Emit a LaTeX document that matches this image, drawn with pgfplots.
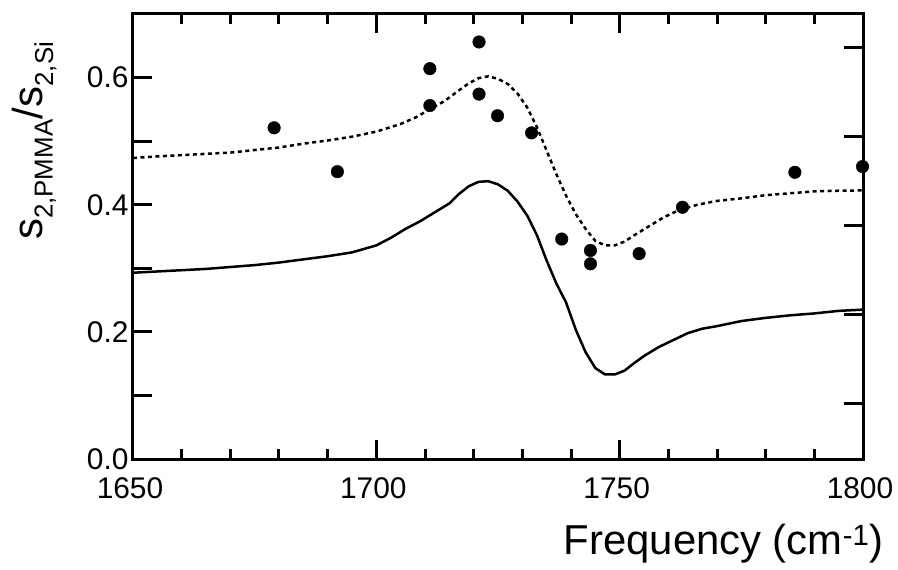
\documentclass[border=0pt]{standalone}
\usepackage{pgfplots}
\pgfplotsset{compat=1.18}
\usepackage{fontspec}
\setmainfont{Liberation Sans}

% Measured near-field ratio (dots), fitted model (dotted) and bare model (solid)
\pgfplotstableread{
x y
1679.0 0.521
1692.0 0.452
1711.0 0.614
1711.0 0.556
1721.1 0.656
1721.1 0.574
1724.9 0.540
1731.9 0.513
1738.1 0.346
1744.0 0.328
1744.0 0.307
1754.0 0.323
1762.9 0.396
1786.0 0.451
1799.9 0.460
}\measured

\pgfplotstableread{
x y
1650 0.4735
1655 0.476
1660 0.478
1665 0.480
1670 0.482
1675 0.486
1680 0.490
1685 0.496
1690 0.501
1695 0.507
1700 0.515
1705 0.527
1708 0.537
1711 0.550
1714 0.563
1717 0.580
1719 0.591
1721 0.599
1723 0.602
1725 0.598
1727 0.590
1729 0.575
1731 0.553
1733 0.522
1735 0.485
1737 0.448
1739 0.414
1741 0.385
1743 0.362
1745 0.343
1747 0.336
1749 0.336
1751 0.342
1753 0.352
1756 0.366
1759 0.380
1762 0.391
1766 0.400
1770 0.406
1775 0.410
1780 0.415
1785 0.418
1790 0.421
1795 0.422
1800 0.4225
}\fitted

\pgfplotstableread{
x y
1650 0.293
1655 0.295
1660 0.297
1665 0.299
1670 0.302
1675 0.305
1680 0.309
1685 0.314
1690 0.319
1695 0.325
1700 0.336
1703 0.348
1706 0.362
1709 0.374
1712 0.388
1715 0.402
1717 0.417
1719 0.429
1721 0.436
1723 0.437
1725 0.432
1727 0.422
1729 0.405
1731 0.383
1733 0.352
1735 0.312
1737 0.276
1739 0.246
1741 0.203
1743 0.168
1745 0.143
1747 0.133
1749 0.133
1751 0.139
1753 0.151
1755 0.162
1758 0.176
1761 0.187
1764 0.198
1767 0.205
1770 0.209
1775 0.217
1780 0.222
1785 0.226
1790 0.229
1795 0.233
1800 0.235
}\model

\begin{document}
\begin{tikzpicture}
\pgfplotsset{
  frame/.style={
    scale only axis,
    width=730bp, height=445bp,
    xmin=1650, xmax=1800, ymin=0, ymax=0.7,
    axis line style={line width=3bp, black},
    every tick/.style={line width=3bp, black},
    tick align=inside,
    major tick length=19bp,
    minor tick length=10bp,
  }
}
\begin{axis}[
  frame,
  clip=false,
  xtick={1650,1700,1750,1800},
  minor xtick={1660,1670,...,1790},
  xtick pos=both,
  ytick={0,0.1,...,0.65},
  yticklabels={0.0,,0.2,,0.4,,0.6},
  ytick pos=left,
  /pgf/number format/assume math mode=true,
  /pgf/number format/1000 sep={},
  ticklabel style={font=\fontsize{30}{36}\selectfont},
  xticklabel style={yshift=-15bp, xshift=-3bp},
  yticklabel style={xshift=-1bp},
]
\addplot[black, line width=2.5bp, dash pattern=on 4bp off 3.5bp]
  table[x=x, y=y] {\fitted};
\addplot[black, line width=2.5bp] table[x=x, y=y] {\model};
\addplot[only marks, mark=*, mark size=6.3bp, black] table[x=x, y=y] {\measured};

\node[anchor=base east, font=\fontsize{42}{48}\selectfont, inner sep=0pt]
  at (rel axis cs:1.028,-0.2157) {Frequency (cm\textsuperscript{-1})};
\node[anchor=base west, rotate=90, font=\fontsize{42}{48}\selectfont, inner sep=0pt]
  at (rel axis cs:-0.1233,0.492)
  {s\textsubscript{\fontsize{26}{28}\selectfont 2,PMMA}/s\textsubscript{\fontsize{26}{28}\selectfont 2,Si}};
\end{axis}
% second scale: ticks on the right-hand side only
\begin{axis}[
  frame,
  axis x line=none,
  axis y line*=right,
  ytick={0.088,0.228,0.368,0.508,0.648},
  yticklabels={},
]
\end{axis}
\path (current axis.south west) ++(-133bp,-111bp) rectangle ++(898bp,570bp);
\end{tikzpicture}
\end{document}
